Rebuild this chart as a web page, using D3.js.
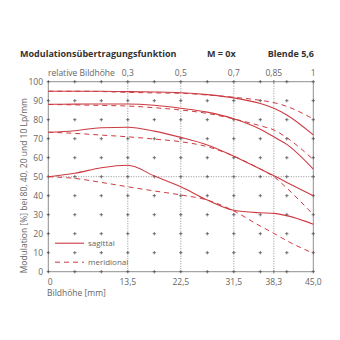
<!DOCTYPE html>
<html>
<head>
<meta charset="utf-8">
<script src="https://cdn.jsdelivr.net/npm/d3@7"></script>
<style>
  html, body { margin: 0; padding: 0; background: #fff; }
  svg { display: block; }
  text { font-family: "Open Sans", "Noto Sans", sans-serif; }
</style>
</head>
<body>
<svg id="chart" width="340" height="340"></svg>
<script>
// Image height positions (mm) at which the curves are sampled
const heights = [0, 4.5, 9, 13.5, 18, 22.5, 27, 31.5, 36, 38.3, 40.5, 45];

// MTF values (%) per spatial frequency, sagittal and meridional
const sag10 = [95, 95, 95, 94.8, 94.6, 94.2, 93.2, 91.5, 88.5, 86, 82.5, 72];
const mer10 = [95, 95, 94.8, 94.4, 94.1, 93.9, 93, 91.8, 90.2, 89, 87, 80.4];
const sag20 = [88.1, 88.2, 88.3, 88.3, 87.6, 86, 84, 80.5, 75, 71, 67, 54];
const mer20 = [88, 87.8, 87.5, 87.2, 86.3, 85.1, 83.3, 80.4, 76.8, 74.6, 70.5, 59];
const sag40 = [73.4, 74.2, 75.8, 76, 74, 70.7, 66.7, 60.8, 54, 50.5, 47, 40];
const mer40 = [73.4, 72.8, 71.9, 71, 69.8, 68.4, 65.8, 60.8, 54, 50, 44, 30];
const sag80 = [50, 51.8, 54.7, 56, 50.4, 44.7, 37.7, 32.3, 31, 30.7, 29.5, 25];
const mer80 = [50, 49.1, 47, 44.7, 42.5, 40.4, 37.7, 32, 24, 20.2, 16.3, 9.7];

// Axis ticks
const xTickValues = [0, 13.5, 22.5, 31.5, 38.3, 45.0];
const xTickLabels = ["0", "13,5", "22,5", "31,5", "38,3", "45,0"];
const relTickLabels = ["0,3", "0,5", "0,7", "0,85", "1"];
const yTickValues = [0, 10, 20, 30, 40, 50, 60, 70, 80, 90, 100];
const gridStepX = 4.5;

const titleText = "Modulationsübertragungsfunktion";
const magText = "M = 0x";
const apertureText = "Blende 5,6";
const yLabel = "Modulation [%] bei 80, 40, 20 und 10 Lp/mm";
const xLabel = "Bildhöhe [mm]";
const relLabel = "relative Bildhöhe";
const legendNames = ["sagittal", "meridional"];
const legendLevels = [15, 5];

const series = [
  { values: sag10, dashed: false }, { values: mer10, dashed: true },
  { values: sag20, dashed: false }, { values: mer20, dashed: true },
  { values: sag40, dashed: false }, { values: mer40, dashed: true },
  { values: sag80, dashed: false }, { values: mer80, dashed: true }
];

const svg = d3.select("#chart");
const plot = { left: 48.3, right: 313.3, top: 81.7, bottom: 271.7 };
const red = "#cc3b42";
const axisCol = "#8f8f8f";
const textCol = "#666";

const x = d3.scaleLinear().domain([0, 45]).range([plot.left, plot.right]);
const y = d3.scaleLinear().domain([0, 100]).range([plot.bottom, plot.top]);

// Dotted reference lines
const dotted = svg.append("g")
  .attr("stroke", "#777").attr("stroke-width", 0.8)
  .attr("stroke-dasharray", "1,1.5");
xTickValues.filter(v => v > 0 && v < 45).forEach(v => {
  dotted.append("line").attr("x1", x(v)).attr("x2", x(v))
    .attr("y1", y(0)).attr("y2", y(100));
});
dotted.append("line").attr("x1", x(0)).attr("x2", x(45))
  .attr("y1", y(50)).attr("y2", y(50));

// Frame
svg.append("rect")
  .attr("x", x(0)).attr("y", y(100))
  .attr("width", x(45) - x(0)).attr("height", y(0) - y(100))
  .attr("fill", "none").attr("stroke", axisCol).attr("stroke-width", 1);

// Grid crosses
const crossX = d3.range(0, 45 + 0.01, gridStepX);
const crosses = svg.append("g").attr("stroke", "#555").attr("stroke-width", 0.8);
crossX.forEach(cx => {
  yTickValues.forEach(cy => {
    const px = x(cx), py = y(cy);
    crosses.append("line").attr("x1", px - 1.7).attr("x2", px + 1.7)
      .attr("y1", py).attr("y2", py);
    crosses.append("line").attr("x1", px).attr("x2", px)
      .attr("y1", py - 1.7).attr("y2", py + 1.7);
  });
});
// Extra ticks at 38.3 on top and bottom edges
[0, 100].forEach(cy => {
  crosses.append("line").attr("x1", x(38.3)).attr("x2", x(38.3))
    .attr("y1", y(cy) - 1.7).attr("y2", y(cy) + 1.7);
});

// Curves
const line = d3.line()
  .x((d, i) => x(heights[i]))
  .y(d => y(d))
  .curve(d3.curveMonotoneX);

const curves = svg.append("g").attr("fill", "none").attr("stroke", red);
series.forEach(s => {
  curves.append("path")
    .attr("d", line(s.values))
    .attr("stroke-width", s.dashed ? 1 : 1.1)
    .attr("stroke-dasharray", s.dashed ? "5,4" : null);
});

// Y tick labels
svg.append("g").selectAll("text").data(yTickValues).join("text")
  .attr("x", 43).attr("y", d => y(d) + 3)
  .attr("text-anchor", "end")
  .attr("font-size", 8.5).attr("fill", textCol)
  .text(d => d);

// X tick labels
svg.append("g").selectAll("text").data(xTickValues).join("text")
  .attr("x", (d, i) => i === 0 ? x(d) + 2 : x(d))
  .attr("y", 285)
  .attr("text-anchor", "middle")
  .attr("font-size", 8.5).attr("fill", textCol)
  .text((d, i) => xTickLabels[i]);

svg.append("text").attr("x", 47).attr("y", 296)
  .attr("font-size", 8.5).attr("fill", textCol).text(xLabel);

// Relative image height labels on top
svg.append("g").selectAll("text").data(xTickValues.slice(1)).join("text")
  .attr("x", d => x(d)).attr("y", 76)
  .attr("text-anchor", "middle")
  .attr("font-size", 8.5).attr("fill", textCol)
  .text((d, i) => relTickLabels[i]);

svg.append("text").attr("x", 48).attr("y", 76)
  .attr("font-size", 8.5).attr("fill", textCol).text(relLabel);

// Y axis title
svg.append("text")
  .attr("transform", `translate(27,${(y(0) + y(100)) / 2 + 9}) rotate(-90)`)
  .attr("text-anchor", "middle")
  .attr("font-size", 8.5).attr("fill", textCol)
  .text(yLabel);

// Header
const header = svg.append("g").attr("font-weight", "bold")
  .attr("font-size", 9).attr("fill", "#333");
header.append("text").attr("x", 20).attr("y", 57).text(titleText);
header.append("text").attr("x", 207).attr("y", 57).text(magText);
header.append("text").attr("x", 314).attr("y", 57)
  .attr("text-anchor", "end").text(apertureText);

// Legend
const legend = svg.append("g");
legendNames.forEach((name, i) => {
  const ly = y(legendLevels[i]);
  legend.append("line")
    .attr("x1", 55).attr("x2", 84)
    .attr("y1", ly).attr("y2", ly)
    .attr("stroke", red).attr("stroke-width", i === 0 ? 1.1 : 1)
    .attr("stroke-dasharray", i === 0 ? null : "5,4");
  legend.append("text")
    .attr("x", 88).attr("y", ly + 3)
    .attr("font-size", 8).attr("fill", textCol)
    .text(name);
});
</script>
</body>
</html>
